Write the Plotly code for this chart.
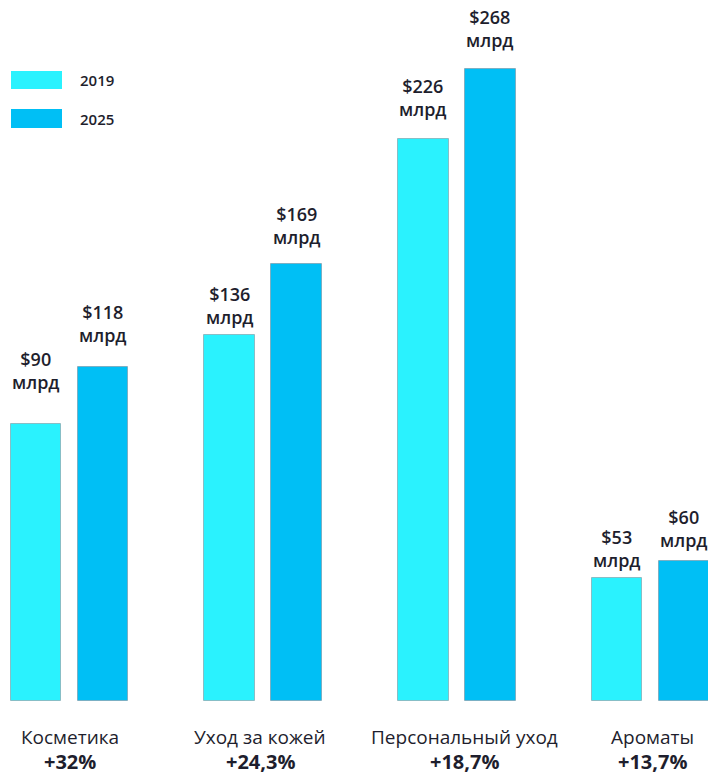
import plotly.graph_objects as go

# ---- data ----
categories = ["Косметика", "Уход за кожей", "Персональный уход", "Ароматы"]
growth = ["+32%", "+24,3%", "+18,7%", "+13,7%"]
series_names = ["2019", "2025"]
values_2019 = [90, 136, 226, 53]        # $ bn (label values)
values_2025 = [118, 169, 268, 60]
# drawn bar heights (the original is not to scale)
bar_height_2019 = [117.4, 155.1, 238.1, 52.1]
bar_height_2025 = [141.5, 185.2, 267.8, 59.3]

# ---- style / layout ----
C2019 = "#2AF2FE"
C2025 = "#00BFF5"
TXT = "#1e1e2d"
FONT = "Open Sans"
W, H = 708, 775
MB = 74
OFF = 0.173
BW = 0.263
label_gap_2019 = [34, 10, 22, 10]
label_gap_2025 = [24, 19, 21, 13]
cat_xshift = [0, -3, 8, 2]

xs = list(range(len(categories)))
fig = go.Figure()
for name, hts, col in [("2019", bar_height_2019, C2019), ("2025", bar_height_2025, C2025)]:
    off = -OFF if name == "2019" else OFF
    fig.add_trace(go.Bar(
        x=[x + off for x in xs], y=hts, width=BW, name=name,
        marker=dict(color=col, line=dict(color="rgba(120,120,130,0.45)", width=1)),
        showlegend=False, hoverinfo="skip"))

ann = []
for vals, hts, gaps, off in [(values_2019, bar_height_2019, label_gap_2019, -OFF),
                             (values_2025, bar_height_2025, label_gap_2025, OFF)]:
    for i, (v, h, g) in enumerate(zip(vals, hts, gaps)):
        ann.append(dict(x=i + off, y=h, xref="x", yref="y", text=f"${v}<br>млрд",
                        showarrow=False, yanchor="bottom", xanchor="center", yshift=g - 6,
                        font=dict(family=FONT, size=18, color=TXT, weight=600)))
for i, (c, g) in enumerate(zip(categories, growth)):
    ann.append(dict(x=i, y=0, xref="x", yref="paper", text=c, showarrow=False,
                    yanchor="middle", xanchor="center", yshift=-36, xshift=cat_xshift[i],
                    font=dict(family=FONT, size=19, color=TXT)))
    ann.append(dict(x=i, y=0, xref="x", yref="paper", text=g, showarrow=False,
                    yanchor="middle", xanchor="center", yshift=-60, xshift=cat_xshift[i],
                    borderpad=0,
                    font=dict(family=FONT, size=20, color=TXT, weight=700)))

# legend drawn manually (wide swatches)
PH = H - MB
shapes = []
for (y0, y1), col, name in [((71, 89), C2019, "2019"), ((109, 128), C2025, "2025")]:
    shapes.append(dict(type="rect", xref="paper", yref="paper",
                       x0=11 / W, x1=62 / W, y0=(PH - y1) / PH, y1=(PH - y0) / PH,
                       fillcolor=col, line=dict(width=0)))
    ann.append(dict(x=78 / W, y=(PH - (y0 + y1) / 2) / PH, xref="paper", yref="paper",
                    text=name, showarrow=False, xanchor="left", yanchor="middle",
                    font=dict(family=FONT, size=15, color=TXT, weight=600)))

fig.update_layout(
    width=W, height=H, margin=dict(l=0, r=0, t=0, b=MB),
    paper_bgcolor="white", plot_bgcolor="white",
    xaxis=dict(range=[-69.5 / 193.67, (W - 69.5) / 193.67], visible=False, fixedrange=True),
    yaxis=dict(range=[0, PH / 2.36], visible=False, fixedrange=True),
    annotations=ann, shapes=shapes, bargap=0, showlegend=False,
)
fig.write_html("out.html")
